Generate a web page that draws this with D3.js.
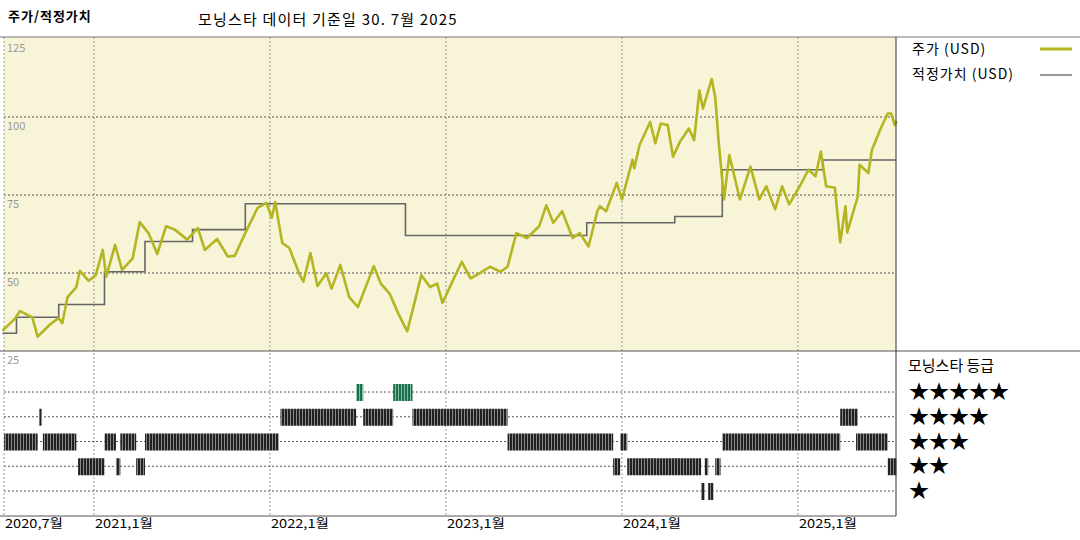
<!DOCTYPE html>
<html><head><meta charset="utf-8">
<script src="https://cdn.jsdelivr.net/npm/d3@7"></script>
<style>
body { margin: 0; background: #fff; }
text { font-family: "Noto Sans CJK KR", "DejaVu Sans", sans-serif; }
</style></head>
<body><div id="chart"></div>
<script>
// time is decimal years
var priceT = [2020.48,2020.55,2020.58,2020.65,2020.68,2020.75,2020.80,2020.82,2020.85,2020.90,2020.92,2020.97,2021.01,2021.05,2021.07,2021.12,2021.16,2021.22,2021.26,2021.31,2021.36,2021.41,2021.46,2021.53,2021.59,2021.63,2021.70,2021.76,2021.80,2021.86,2021.93,2021.98,2022.01,2022.03,2022.07,2022.11,2022.17,2022.19,2022.23,2022.27,2022.32,2022.35,2022.40,2022.45,2022.50,2022.59,2022.63,2022.68,2022.73,2022.78,2022.82,2022.86,2022.91,2022.95,2022.98,2023.04,2023.09,2023.14,2023.19,2023.25,2023.31,2023.35,2023.40,2023.46,2023.53,2023.57,2023.61,2023.66,2023.72,2023.76,2023.81,2023.86,2023.875,2023.91,2023.97,2024.00,2024.06,2024.07,2024.10,2024.16,2024.19,2024.22,2024.26,2024.29,2024.33,2024.38,2024.41,2024.44,2024.46,2024.51,2024.53,2024.55,2024.58,2024.61,2024.67,2024.73,2024.78,2024.82,2024.87,2024.91,2024.95,2025.01,2025.06,2025.10,2025.13,2025.16,2025.21,2025.24,2025.27,2025.28,2025.34,2025.35,2025.40,2025.42,2025.47,2025.51,2025.53,2025.55,2025.56];
var priceV = [31.5,35.3,37.8,35.8,29.6,33.5,35.6,33.9,42.3,45.5,50.7,47.5,49.3,57.4,48.8,59.0,51.0,54.7,66.3,62.8,56.1,65.0,63.9,60.7,64.4,57.4,60.9,55.3,55.5,62.8,70.9,72.5,67.7,72.7,59.6,58.0,49.3,47.2,56.4,45.8,49.9,45.0,52.6,42.3,39.1,52.2,46.6,43.4,36.9,31.3,40.2,49.3,45.5,46.6,40.4,47.7,53.6,48.3,49.9,52.0,50.4,52.0,62.8,61.2,65.0,71.7,66.1,69.8,61.2,62.8,58.5,69.8,71.4,69.8,78.9,73.6,86.3,83.6,91.0,98.4,91.6,97.9,97.4,87.3,92.1,96.3,92.6,108.5,102.7,112.2,106.3,91.6,73.6,87.8,73.6,84.1,73.6,77.8,70.4,77.8,72.0,77.8,83.1,81.0,88.9,77.8,77.3,59.8,71.4,63.0,74.6,84.7,82.0,89.4,96.3,101.1,101.1,97.4,98.7];
var fairT = [2020.48,2020.56,2020.80,2021.06,2021.29,2021.56,2021.86,2022.77,2023.80,2024.30,2024.57,2025.14,2025.557];
var fairV = [30.7,35.8,39.9,50.4,60.1,63.9,72.2,62.0,66.1,68.1,83.1,86.2,86.2];
// rating periods: [start, end, stars]
var ratings = [
  [2020.49,2020.68,3],[2020.71,2020.90,3],[2021.06,2021.125,3],[2021.15,2021.24,3],[2021.29,2022.05,3],
  [2023.35,2023.95,3],[2023.99,2024.03,3],[2024.57,2025.24,3],[2025.33,2025.51,3],
  [2020.69,2020.705,4],[2022.06,2022.49,4],[2022.53,2022.70,4],[2022.81,2023.35,4],[2025.24,2025.34,4],
  [2022.49,2022.53,5],[2022.70,2022.81,5],
  [2020.91,2021.06,2],[2021.125,2021.15,2],[2021.24,2021.29,2],[2023.95,2023.99,2],[2024.03,2024.45,2],
  [2024.47,2024.49,2],[2024.53,2024.56,2],[2025.51,2025.56,2],
  [2024.45,2024.47,1],[2024.49,2024.52,1]
];
var xTicks = [2020.49,2021,2022,2023,2024,2025];
var xTickLabels = ["2020,7월","2021,1월","2022,1월","2023,1월","2024,1월","2025,1월"];
var yTicks = [125,100,75,50,25];
var starLabels = ["★★★★★","★★★★","★★★","★★","★"];

var width = 1080, height = 540;
var left = 4, right = 896, topY = 37, mid = 351, bottom = 516;

var svg = d3.select("#chart").append("svg").attr("width", width).attr("height", height);

var x = d3.scaleLinear().domain([2020.489, 2025.557]).range([left, right]);
var y = d3.scaleLinear().domain([25, 125]).range([mid, 39]);
var yr = d3.scalePoint().domain([5,4,3,2,1]).range([392, 491]);

svg.append("text").attr("x", 8).attr("y", 21).attr("font-size", 13).attr("font-weight", "bold").attr("letter-spacing", 1).text("주가/적정가치");
svg.append("text").attr("x", 198).attr("y", 25).attr("font-size", 15).attr("letter-spacing", 1.2).text("모닝스타 데이터 기준일 30. 7월 2025");

svg.append("rect").attr("x", left).attr("y", topY).attr("width", right - left).attr("height", mid - topY).attr("fill", "#f8f4d8");

// gridlines
svg.selectAll("line.vg").data(xTicks.slice(1)).enter().append("line")
	.attr("x1", function(d) { return x(d); }).attr("x2", function(d) { return x(d); })
	.attr("y1", topY).attr("y2", bottom)
	.style("stroke", "#999").style("stroke-dasharray", "2,2");
svg.selectAll("line.hg").data(yTicks.slice(1, 4)).enter().append("line")
	.attr("x1", left).attr("x2", right)
	.attr("y1", function(d) { return y(d); }).attr("y2", function(d) { return y(d); })
	.style("stroke", "#555").style("stroke-dasharray", "2,2");
svg.selectAll("line.rg").data(yr.domain()).enter().append("line")
	.attr("x1", left).attr("x2", right)
	.attr("y1", function(d) { return yr(d); }).attr("y2", function(d) { return yr(d); })
	.style("stroke", "#555").style("stroke-dasharray", "2,2");
svg.append("line").attr("x1", left).attr("x2", left).attr("y1", topY).attr("y2", bottom)
	.style("stroke", "#999").style("stroke-dasharray", "2,2");

svg.selectAll("text.yl").data(yTicks).enter().append("text")
	.attr("x", 7).attr("y", function(d) { return y(d) + 13; })
	.attr("font-size", 11).attr("fill", "#999").attr("font-family", "Liberation Sans")
	.text(function(d) { return d; });

// striped pattern for rating bars
var defs = svg.append("defs");
[["dark", "#222", "#888"], ["green", "#1f6e4e", "#7fbfa0"]].forEach(function(p) {
	var pat = defs.append("pattern").attr("id", "pat-" + p[0]).attr("patternUnits", "userSpaceOnUse")
		.attr("width", 3).attr("height", 20);
	pat.append("rect").attr("width", 3).attr("height", 20).attr("fill", p[2]);
	pat.append("rect").attr("width", 2).attr("height", 20).attr("fill", p[1]);
});
svg.selectAll("rect.rating").data(ratings).enter().append("rect")
	.attr("x", function(d) { return x(d[0]); })
	.attr("width", function(d) { return Math.max(2, x(d[1]) - x(d[0])); })
	.attr("y", function(d) { return yr(d[2]) - 8; })
	.attr("height", 17)
	.attr("fill", function(d) { return d[2] == 5 ? "url(#pat-green)" : "url(#pat-dark)"; });

// lines
var fairLine = d3.line().x(function(d, i) { return x(fairT[i]); }).y(function(d) { return y(d); }).curve(d3.curveStepAfter);
svg.append("path").attr("d", fairLine(fairV)).style("fill", "none").style("stroke", "#666").style("stroke-width", 1.6);
var priceLine = d3.line().x(function(d, i) { return x(priceT[i]); }).y(function(d) { return y(d); });
svg.append("path").attr("d", priceLine(priceV)).style("fill", "none").style("stroke", "#b3b521").style("stroke-width", 2.6).style("stroke-linejoin", "round");

// frame
svg.append("line").attr("x1", 0).attr("x2", width).attr("y1", topY).attr("y2", topY).style("stroke", "#777");
svg.append("line").attr("x1", 0).attr("x2", width).attr("y1", mid).attr("y2", mid).style("stroke", "#555");
svg.append("line").attr("x1", 0).attr("x2", right).attr("y1", bottom).attr("y2", bottom).style("stroke", "#555");
svg.append("line").attr("x1", right).attr("x2", right).attr("y1", topY).attr("y2", bottom).style("stroke", "#333");

svg.selectAll("text.xl").data(xTicks).enter().append("text")
	.attr("x", function(d, i) { return i == 0 ? 5 : x(d) + 1; }).attr("y", 528)
	.attr("font-size", 12).attr("textLength", 58).attr("lengthAdjust", "spacingAndGlyphs")
	.text(function(d, i) { return xTickLabels[i]; });

// legend
svg.append("text").attr("x", 912).attr("y", 54).attr("font-size", 14).attr("letter-spacing", 1).text("주가 (USD)");
svg.append("line").attr("x1", 1040).attr("x2", 1072).attr("y1", 49).attr("y2", 49).style("stroke", "#b3b521").style("stroke-width", 3);
svg.append("text").attr("x", 912).attr("y", 79).attr("font-size", 14).attr("letter-spacing", 1).text("적정가치 (USD)");
svg.append("line").attr("x1", 1040).attr("x2", 1072).attr("y1", 75).attr("y2", 75).style("stroke", "#777").style("stroke-width", 1.5);
svg.append("text").attr("x", 908).attr("y", 371).attr("font-size", 15).text("모닝스타 등급");
svg.selectAll("text.star").data(starLabels).enter().append("text")
	.attr("x", 909).attr("y", function(d, i) { return yr.domain().map(yr)[i] + 7; })
	.attr("font-size", 20).attr("font-family", "DejaVu Sans").text(function(d) { return d; });
</script></body></html>
